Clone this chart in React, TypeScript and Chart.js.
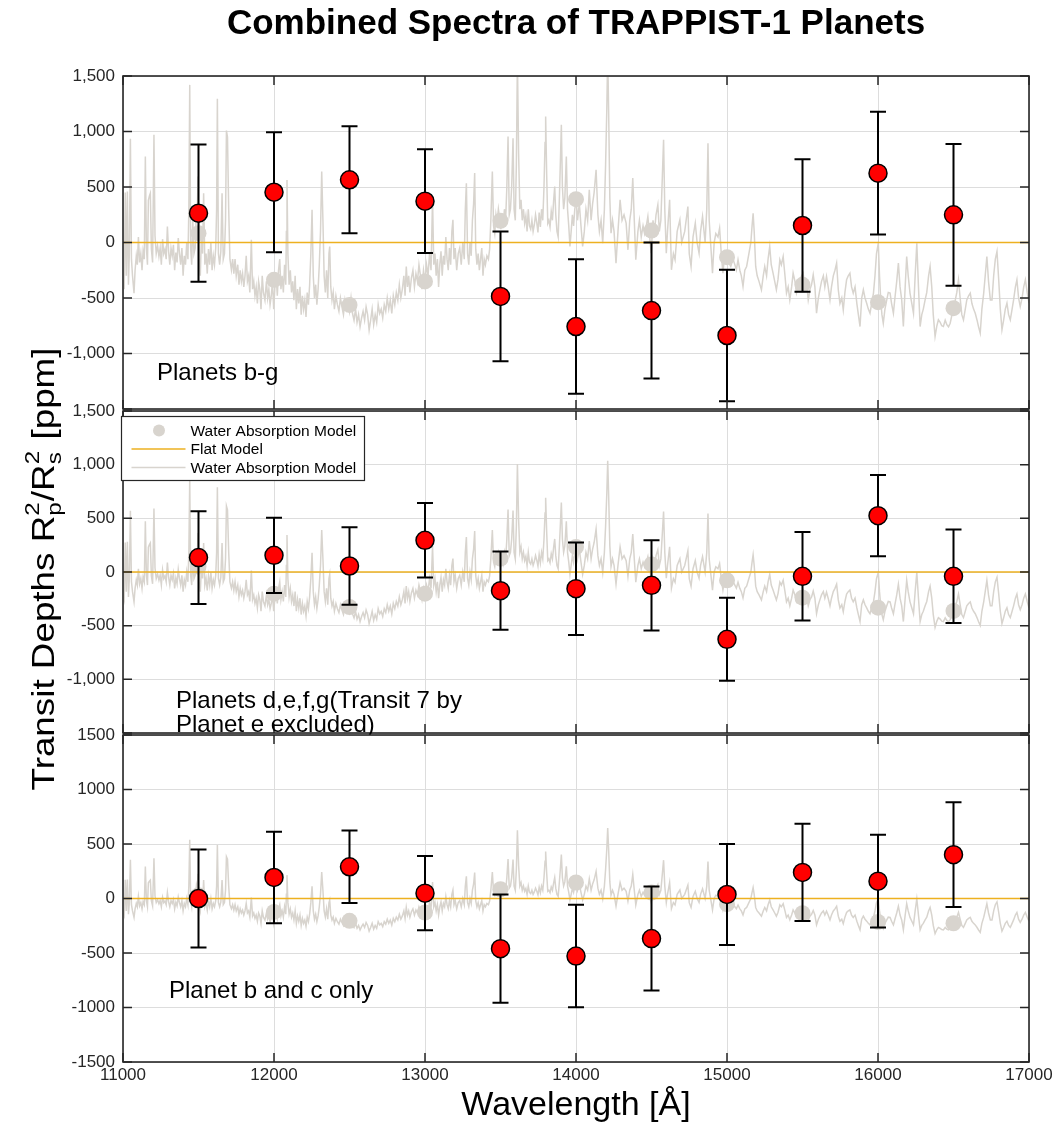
import React, { useEffect, useRef } from 'react';
import { Chart, registerables } from 'chart.js';

Chart.register(...registerables);

// ---------------- DATA ----------------
const wavelengths = [11500, 12000, 12500, 13000, 13500, 14000, 14500, 15000, 15500, 16000, 16500];

const panelNames = ['Planets b-g', 'Planets d,e,f,g(Transit 7 by\nPlanet e excluded)', 'Planet b and c only'];

// Panel 1: planets b-g
const depthsBG = [264, 453, 565, 372, -486, -757, -613, -838, 153, 625, 249];
const errorsBG = [618, 540, 482, 467, 584, 605, 612, 592, 596, 554, 638];
const modelBinsBG = [84, -336, -562, -351, 195, 390, 108, -132, -381, -538, -592];

// Panel 2: planets d,e,f,g
const depthsDEFG = [134, 155, 56, 295, -174, -155, -124, -627, -40, 525, -40];
const errorsDEFG = [432, 350, 362, 347, 365, 431, 420, 387, 413, 378, 436];
const modelBinsDEFG = [50, -202, -326, -202, 124, 233, 71, -78, -239, -332, -363];

// Panel 3: planets b and c
const depthsBC = [0, 193, 291, 49, -460, -528, -368, 37, 239, 159, 402];
const errorsBC = [450, 420, 333, 340, 497, 470, 477, 463, 446, 425, 480];
const modelBinsBC = [30, -123, -205, -129, 85, 147, 55, -52, -135, -215, -227];

// amplitude of the high-resolution model drawn in each panel
const modelScale = [1, 0.61, 0.38];

// high-resolution water absorption model [wavelength Å, depth ppm] (as drawn in top panel)
const waterModelSpectrum: [number, number][] = [
  [11000, -340], [11008, -420], [11015, 450], [11022, -300], [11029, 460], [11036, -380], [11042, -100], [11049, 934],
  [11056, -150], [11063, -300], [11073, -456], [11080, -250], [11088, -120], [11095, -200], [11102, 50], [11110, -180],
  [11118, -100], [11126, -250], [11133, -80], [11141, -150], [11148, 775], [11155, -50], [11162, -200], [11168, 380],
  [11175, 420], [11181, 444], [11188, -60], [11196, -180], [11205, 970], [11212, 60], [11220, -100], [11229, -30],
  [11238, -126], [11246, -50], [11254, -200], [11262, 30], [11270, -100], [11278, -60], [11286, -150], [11294, 144],
  [11302, -80], [11310, -200], [11318, -50], [11326, -120], [11334, -20], [11342, -250], [11350, -90], [11358, -180],
  [11366, 40], [11374, -100], [11382, -200], [11390, -50], [11398, -300], [11406, -120], [11414, -200], [11422, 0],
  [11430, -150], [11436, 300], [11442, 1420], [11448, -50], [11455, -200], [11462, 200], [11470, -100], [11478, -50],
  [11486, 300], [11491, 200], [11497, 594], [11504, -150], [11512, -300], [11520, 100], [11527, -100], [11534, 444],
  [11542, -200], [11550, -100], [11558, -280], [11566, -60], [11574, -200], [11582, 0], [11590, -250], [11598, -120],
  [11606, -200], [11614, -50], [11620, 300], [11625, 1294], [11632, -100], [11640, -200], [11648, -80], [11656, 444],
  [11664, -150], [11672, -100], [11679, 200], [11685, 1009], [11692, 950], [11700, 300], [11708, -150], [11718, -246],
  [11726, -150], [11734, -280], [11742, -150], [11750, -300], [11760, -200], [11768, -380], [11776, -250], [11784, -350],
  [11792, -280], [11800, -400], [11808, -300], [11816, -120], [11824, -350], [11832, -300], [11840, -450], [11850, 24],
  [11858, -420], [11866, -350], [11874, -480], [11882, -400], [11890, -550], [11898, -350], [11906, -420], [11914, -600],
  [11922, -300], [11930, -450], [11940, -520], [11950, -350], [11958, -500], [11966, -420], [11974, -560], [11982, -480],
  [11990, -350], [11998, -600], [12006, -400], [12014, -300], [12022, -480], [12030, -250], [12038, -150], [12046, -420],
  [12054, -300], [12062, -450], [12070, -200], [12078, -380], [12082, 100], [12086, 564], [12092, -100], [12100, -380],
  [12108, -250], [12116, -450], [12124, -350], [12132, -520], [12140, -300], [12148, -600], [12156, -420], [12164, -550],
  [12172, -400], [12180, -650], [12188, -480], [12196, -600], [12204, -520], [12212, -670], [12220, -450], [12228, -560],
  [12236, -380], [12244, -100], [12252, 294], [12260, -300], [12268, -500], [12276, -380], [12284, -560], [12292, -420],
  [12300, -200], [12308, 100], [12316, 640], [12324, 200], [12332, -300], [12340, -450], [12348, -250], [12356, -500],
  [12364, -100], [12369, -36], [12376, -400], [12384, -520], [12392, -450], [12400, -600], [12410, -480], [12420, -560],
  [12430, -620], [12440, -500], [12450, -580], [12460, -650], [12470, -520], [12480, -600], [12490, -540], [12500, -620],
  [12510, -500], [12520, -640], [12530, -700], [12540, -600], [12550, -720], [12560, -650], [12570, -760], [12580, -680],
  [12590, -620], [12600, -700], [12610, -580], [12620, -650], [12630, -790], [12640, -700], [12650, -600], [12660, -740],
  [12670, -650], [12680, -720], [12690, -560], [12700, -640], [12710, -600], [12720, -680], [12730, -560], [12740, -620],
  [12750, -500], [12760, -600], [12770, -520], [12780, -640], [12790, -480], [12800, -560], [12810, -450], [12820, -520],
  [12830, -380], [12840, -500], [12850, -420], [12860, -300], [12868, -480], [12876, -216], [12884, -400], [12892, -300],
  [12900, -450], [12910, -320], [12920, -250], [12930, -400], [12940, -280], [12950, -350], [12960, -200], [12970, -300],
  [12980, -420], [12990, -250], [13000, -350], [13010, -200], [13020, -300], [13030, -100], [13040, -250], [13050, 400],
  [13058, -200], [13066, -100], [13074, -300], [13082, -150], [13090, -400], [13098, -200], [13106, -80], [13114, -300],
  [13122, -120], [13130, -200], [13138, 50], [13146, -150], [13154, -250], [13162, -50], [13170, -200], [13178, 100],
  [13185, 204], [13192, -150], [13200, -50], [13210, -250], [13220, -100], [13230, -50], [13240, -200], [13250, 0],
  [13260, -150], [13267, 300], [13274, 534], [13282, -100], [13290, -200], [13298, 0], [13306, -120], [13314, 200],
  [13322, 350], [13329, 625], [13336, -60], [13344, -200], [13352, -100], [13360, -250], [13368, -150], [13376, -50],
  [13384, -300], [13392, -150], [13400, -200], [13410, -120], [13420, -150], [13428, -60], [13436, 200], [13446, 640],
  [13454, 150], [13462, 80], [13470, 250], [13478, 180], [13486, 300], [13494, 220], [13502, 120], [13510, 250],
  [13518, 140], [13526, 300], [13534, 200], [13542, 500], [13550, 955], [13558, 250], [13566, 300], [13574, 500],
  [13583, 940], [13590, 300], [13598, 200], [13605, 700], [13612, 1650], [13620, 800], [13628, 300], [13636, 384],
  [13644, 200], [13652, 300], [13660, 174], [13668, 240], [13676, 100], [13684, 300], [13692, 150], [13700, 120],
  [13708, 200], [13716, 100], [13724, 160], [13732, 250], [13740, 180], [13748, 90], [13756, 270], [13764, 140],
  [13772, 300], [13780, 200], [13788, 500], [13795, 900], [13799, 1135], [13806, 600], [13813, 174], [13820, 200],
  [13828, 140], [13836, 280], [13844, 200], [13852, 380], [13859, 505], [13866, 250], [13874, 100], [13882, 50],
  [13890, 400], [13896, 700], [13903, 1060], [13910, 500], [13918, 300], [13926, 400], [13936, 775], [13944, 300],
  [13952, 150], [13960, -36], [13968, 100], [13976, 250], [13984, 150], [13992, 300], [14002, 384], [14010, 200],
  [14022, 350], [14033, 150], [14044, -36], [14055, 100], [14066, 300], [14077, 200], [14088, 474], [14100, 200],
  [14110, 350], [14120, 450], [14133, 655], [14145, 250], [14155, 100], [14166, 200], [14177, -6], [14188, 300],
  [14196, 700], [14204, 1200], [14210, 1700], [14216, 1200], [14224, 400], [14232, 84], [14242, 200], [14252, 100],
  [14265, -186], [14278, 100], [14292, 384], [14305, 200], [14318, 250], [14332, 174], [14344, -66], [14356, 200],
  [14366, 300], [14376, 580], [14386, 200], [14396, -156], [14410, 100], [14420, 200], [14432, 50], [14444, 150],
  [14454, 80], [14465, 144], [14476, 234], [14488, 50], [14498, -96], [14510, 200], [14520, 100], [14530, 250],
  [14542, 339], [14552, 100], [14562, 200], [14572, 600], [14580, 925], [14588, 300], [14598, -96], [14606, 100],
  [14620, 384], [14632, -246], [14645, -100], [14656, -156], [14670, 100], [14688, 204], [14700, 0], [14720, 100],
  [14741, 324], [14750, -100], [14762, -216], [14775, 50], [14790, 174], [14802, 0], [14815, -96], [14825, 100],
  [14838, 234], [14855, 0], [14866, 300], [14874, 895], [14882, 200], [14893, -36], [14904, -276], [14915, 0],
  [14926, 80], [14940, 50], [14951, 129], [14962, -100], [14973, -276], [14985, -100], [14996, -156], [15010, -180],
  [15025, -216], [15040, -150], [15052, -200], [15062, -246], [15073, -156], [15085, -250], [15095, -300], [15106, -396],
  [15118, -250], [15130, -216], [15145, -100], [15158, 0], [15166, 150], [15173, 264], [15180, 100], [15190, -216],
  [15200, -300], [15212, -350], [15228, -426], [15240, -300], [15250, -216], [15262, -300], [15272, -150], [15283, -36],
  [15293, -200], [15305, -276], [15316, -350], [15327, -426], [15338, -330], [15350, -156], [15360, -200], [15372, -126],
  [15384, -300], [15394, -456], [15405, -400], [15416, -516], [15428, -400], [15438, -276], [15450, -350], [15460, -456],
  [15472, -400], [15482, -350], [15494, -300], [15504, -276], [15515, -400], [15526, -350], [15538, -517], [15550, -420],
  [15560, -380], [15571, -291], [15582, -400], [15593, -637], [15605, -500], [15615, -426], [15626, -350], [15638, -300],
  [15648, -400], [15659, -306], [15670, -400], [15682, -517], [15692, -400], [15704, -300], [15715, -250], [15726, -186],
  [15737, -426], [15748, -550], [15760, -500], [15770, -607], [15781, -450], [15792, -336], [15803, -300], [15814, -276],
  [15825, -400], [15836, -456], [15848, -400], [15860, -550], [15870, -650], [15881, -757], [15892, -500], [15903, -426],
  [15914, -500], [15925, -547], [15936, -600], [15947, -637], [15958, -550], [15970, -456], [15980, -300], [15990, -100],
  [16002, -6], [16010, -300], [16018, -517], [16026, -650], [16035, -727], [16046, -600], [16058, -517], [16068, -450],
  [16080, -456], [16090, -550], [16102, -637], [16112, -500], [16124, -350], [16135, -186], [16146, -400], [16157, -517],
  [16168, -757], [16180, -400], [16190, -126], [16200, -300], [16212, -456], [16224, -550], [16235, -637], [16246, -300],
  [16257, -6], [16268, -400], [16279, -757], [16290, -650], [16300, -600], [16312, -517], [16323, -450], [16335, -300],
  [16345, -216], [16356, -400], [16366, -650], [16378, -847], [16390, -750], [16400, -697], [16412, -720], [16422, -750],
  [16433, -757], [16445, -700], [16456, -740], [16467, -760], [16478, -727], [16490, -650], [16500, -600], [16512, -517],
  [16522, -450], [16533, -336], [16544, -500], [16555, -650], [16566, -697], [16578, -600], [16588, -517], [16600, -480],
  [16611, -456], [16622, -550], [16633, -600], [16644, -637], [16656, -700], [16666, -760], [16677, -817], [16688, -600],
  [16700, -456], [16710, -300], [16721, -126], [16732, -350], [16744, -517], [16755, -517], [16766, -300], [16777, -150],
  [16788, -81], [16800, -350], [16810, -600], [16821, -787], [16832, -700], [16843, -600], [16854, -547], [16865, -650],
  [16876, -697], [16888, -600], [16898, -517], [16910, -400], [16920, -336], [16931, -500], [16942, -577], [16954, -500],
  [16965, -400], [16976, -336], [16988, -450], [17000, -547],
];

const flatModel = [0, 0];
const xRange = [11000, 17000];
const yRange = [-1500, 1500];

const panelDepths = [depthsBG, depthsDEFG, depthsBC];
const panelErrors = [errorsBG, errorsDEFG, errorsBC];
const panelModelBins = [modelBinsBG, modelBinsDEFG, modelBinsBC];

// ---------------- LAYOUT / STYLE ----------------
const W = 1057;
const H = 1125;
const PLOT_LEFT = 123;
const PLOT_RIGHT = 1029;
const PANEL_TOP = [76, 411, 735];
const PANEL_BOTTOM = [409, 733, 1062];
const X_AXIS_H = 30;
const FONT = "'Liberation Sans', Arial, Helvetica, sans-serif";
const AXIS_COLOR = '#262626';
const GRID_COLOR = '#dddddd';
const MODEL_COLOR = '#d8d4ce';
const FLAT_COLOR = '#edb120';

function makeChart(canvas: HTMLCanvasElement, i: number) {
  const isBottom = i === 2;
  const commas = i < 2;
  const xy = (ys: number[]) => wavelengths.map((x, k) => ({ x, y: ys[k] }));
  const lineData = waterModelSpectrum.map(([x, y]) => ({ x, y: y * modelScale[i] }));

  const panelPlugin = {
    id: 'panelDecor' + i,
    beforeDatasetDraw(chart: any, args: any) {
      if (args.index !== 0) return;
      const { ctx } = chart;
      const xs = chart.scales.x;
      const ys = chart.scales.y;
      ctx.save();
      ctx.strokeStyle = '#000';
      ctx.lineWidth = 2;
      const d = panelDepths[i];
      const e = panelErrors[i];
      wavelengths.forEach((w, k) => {
        const px = xs.getPixelForValue(w);
        const yt = ys.getPixelForValue(d[k] + e[k]);
        const yb = ys.getPixelForValue(d[k] - e[k]);
        ctx.beginPath();
        ctx.moveTo(px, yt);
        ctx.lineTo(px, yb);
        ctx.moveTo(px - 8, yt);
        ctx.lineTo(px + 8, yt);
        ctx.moveTo(px - 8, yb);
        ctx.lineTo(px + 8, yb);
        ctx.stroke();
      });
      ctx.restore();
    },
    afterDraw(chart: any) {
      const { ctx, chartArea: a } = chart;
      const xs = chart.scales.x;
      const ys = chart.scales.y;
      ctx.save();
      // inward tick marks
      ctx.strokeStyle = AXIS_COLOR;
      ctx.lineWidth = 1.5;
      ctx.beginPath();
      ys.ticks.forEach((t: any) => {
        const py = ys.getPixelForValue(t.value);
        ctx.moveTo(a.left, py);
        ctx.lineTo(a.left + 9, py);
        ctx.moveTo(a.right - 9, py);
        ctx.lineTo(a.right, py);
      });
      xs.ticks.forEach((t: any) => {
        const px = xs.getPixelForValue(t.value);
        ctx.moveTo(px, a.top);
        ctx.lineTo(px, a.top + 9);
        ctx.moveTo(px, a.bottom - 9);
        ctx.lineTo(px, a.bottom);
      });
      ctx.stroke();
      // box
      ctx.lineWidth = 1.6;
      ctx.strokeRect(a.left, a.top, a.right - a.left, a.bottom - a.top);

      // panel annotation text
      ctx.fillStyle = '#000';
      ctx.font = `24px ${FONT}`;
      ctx.textAlign = 'left';
      ctx.textBaseline = 'alphabetic';
      const lines = panelNames[i].split('\n');
      ctx.save();
      ctx.beginPath();
      ctx.rect(0, 0, W, a.bottom + 2);
      ctx.clip();
      if (i === 0) {
        ctx.fillText(lines[0], a.left + 34, a.bottom - 29);
      } else if (i === 1) {
        ctx.fillText(lines[0], a.left + 53, a.bottom - 25);
        ctx.fillText(lines[1], a.left + 53, a.bottom - 1);
      } else {
        ctx.fillText(lines[0], a.left + 46, a.bottom - 64);
      }
      ctx.restore();

      if (i === 1) {
        // legend
        const lx = a.left - 1.5;
        const ly = a.top + 5.5;
        const lw = 243;
        const lh = 64;
        ctx.fillStyle = '#fff';
        ctx.fillRect(lx, ly, lw, lh);
        ctx.strokeStyle = AXIS_COLOR;
        ctx.lineWidth = 1.2;
        ctx.strokeRect(lx, ly, lw, lh);
        const ds = chart.data.datasets;
        const rows = [
          { label: ds[2].label, kind: 'dot', color: MODEL_COLOR },
          { label: ds[1].label, kind: 'line', color: FLAT_COLOR },
          { label: ds[3].label, kind: 'line', color: MODEL_COLOR },
        ];
        rows.forEach((r, k) => {
          const cy = ly + 14 + k * 18.5;
          if (r.kind === 'dot') {
            ctx.fillStyle = r.color;
            ctx.beginPath();
            ctx.arc(lx + 37.5, cy, 6, 0, Math.PI * 2);
            ctx.fill();
          } else {
            ctx.strokeStyle = r.color;
            ctx.lineWidth = 1.5;
            ctx.beginPath();
            ctx.moveTo(lx + 10, cy);
            ctx.lineTo(lx + 64, cy);
            ctx.stroke();
          }
          ctx.fillStyle = '#000';
          ctx.font = `15.5px ${FONT}`;
          ctx.textBaseline = 'middle';
          ctx.fillText(r.label, lx + 69, cy + 1);
        });
      }

      if (i === 0) {
        // title
        ctx.fillStyle = '#000';
        ctx.font = `bold 35px ${FONT}`;
        ctx.textAlign = 'center';
        ctx.textBaseline = 'alphabetic';
        ctx.fillText('Combined Spectra of TRAPPIST-1 Planets', (PLOT_LEFT + PLOT_RIGHT) / 2, 34);
        // y label with sub/superscripts
        const mainF = `32px ${FONT}`;
        const smallF = `21px ${FONT}`;
        const stretch = 1.15;
        const parts: any[] = [
          { t: 'Transit Depths R' },
          { sub: 'p', sup: '2' },
          { t: '/R' },
          { sub: 's', sup: '2' },
          { t: ' [ppm]' },
        ];
        let total = 0;
        parts.forEach((p) => {
          if (p.t) {
            ctx.font = mainF;
            p.w = ctx.measureText(p.t).width;
          } else {
            ctx.font = smallF;
            p.w = Math.max(ctx.measureText(p.sub).width, ctx.measureText(p.sup).width) + 1;
          }
          total += p.w;
        });
        ctx.save();
        ctx.translate(54, (PANEL_TOP[0] + PANEL_BOTTOM[2]) / 2);
        ctx.rotate(-Math.PI / 2);
        ctx.scale(stretch, 1);
        ctx.textAlign = 'left';
        let x = -total / 2;
        parts.forEach((p) => {
          if (p.t) {
            ctx.font = mainF;
            ctx.fillText(p.t, x, 0);
          } else {
            ctx.font = smallF;
            ctx.fillText(p.sub, x, 7);
            ctx.fillText(p.sup, x, -15);
          }
          x += p.w;
        });
        ctx.restore();
      }
      if (isBottom) {
        ctx.fillStyle = '#000';
        ctx.font = `34px ${FONT}`;
        ctx.textAlign = 'center';
        ctx.textBaseline = 'alphabetic';
        ctx.fillText('Wavelength [Å]', (PLOT_LEFT + PLOT_RIGHT) / 2, 1115);
      }
      ctx.restore();
    },
  };

  return new Chart(canvas, {
    type: 'scatter',
    data: {
      datasets: [
        {
          label: 'Transit Depth',
          data: xy(panelDepths[i]),
          showLine: false,
          pointRadius: 9,
          pointBackgroundColor: '#ff0000',
          pointBorderColor: '#000',
          pointBorderWidth: 1.5,
        },
        {
          label: 'Flat Model',
          data: xRange.map((x, k) => ({ x, y: flatModel[k] })),
          showLine: true,
          borderColor: FLAT_COLOR,
          borderWidth: 1.5,
          pointRadius: 0,
        },
        {
          label: 'Water Absorption Model',
          data: xy(panelModelBins[i]),
          showLine: false,
          pointRadius: 8,
          pointBackgroundColor: MODEL_COLOR,
          pointBorderWidth: 0,
          pointBorderColor: MODEL_COLOR,
        },
        {
          label: 'Water Absorption Model',
          data: lineData,
          showLine: true,
          borderColor: MODEL_COLOR,
          borderWidth: 1.5,
          pointRadius: 0,
          tension: 0,
        },
      ],
    } as any,
    options: {
      responsive: false,
      animation: false,
      events: [],
      layout: {
        padding: {
          left: 0,
          right: W - PLOT_RIGHT,
          top: PANEL_TOP[i],
          bottom: H - PANEL_BOTTOM[i] - (isBottom ? X_AXIS_H : 0),
        },
      },
      plugins: {
        legend: { display: false },
        tooltip: { enabled: false },
        title: { display: false },
      },
      scales: {
        x: {
          type: 'linear',
          min: xRange[0],
          max: xRange[1],
          ticks: {
            display: isBottom,
            stepSize: 1000,
            autoSkip: false,
            maxRotation: 0,
            padding: 3,
            color: AXIS_COLOR,
            font: { family: FONT, size: 17 },
            callback: (v: any) => String(v),
          },
          grid: { color: GRID_COLOR, lineWidth: 1, drawTicks: false },
          border: { display: false },
          afterFit: (s: any) => {
            s.height = isBottom ? X_AXIS_H : 0;
          },
        },
        y: {
          type: 'linear',
          min: yRange[0],
          max: yRange[1],
          ticks: {
            stepSize: 500,
            padding: 8,
            color: AXIS_COLOR,
            font: { family: FONT, size: 17 },
            callback: (v: any) => {
              const n = Number(v);
              if (!isBottom && n === yRange[0]) return '';
              return commas ? n.toLocaleString('en-US') : String(n);
            },
          },
          grid: { color: GRID_COLOR, lineWidth: 1, drawTicks: false },
          border: { display: false },
          afterFit: (s: any) => {
            s.width = PLOT_LEFT;
          },
        },
      },
    } as any,
    plugins: [panelPlugin],
  });
}

export default function App() {
  const r0 = useRef<HTMLCanvasElement>(null);
  const r1 = useRef<HTMLCanvasElement>(null);
  const r2 = useRef<HTMLCanvasElement>(null);
  useEffect(() => {
    const charts = [r0, r1, r2].map((r, i) => makeChart(r.current as HTMLCanvasElement, i));
    return () => charts.forEach((c) => c.destroy());
  }, []);
  const cs: React.CSSProperties = { position: 'absolute', left: 0, top: 0, width: W, height: H };
  return (
    <div style={{ position: 'absolute', left: 0, top: 0, width: W, height: H, background: '#fff' }}>
      <canvas ref={r0} width={W} height={H} style={cs} />
      <canvas ref={r1} width={W} height={H} style={cs} />
      <canvas ref={r2} width={W} height={H} style={cs} />
    </div>
  );
}
